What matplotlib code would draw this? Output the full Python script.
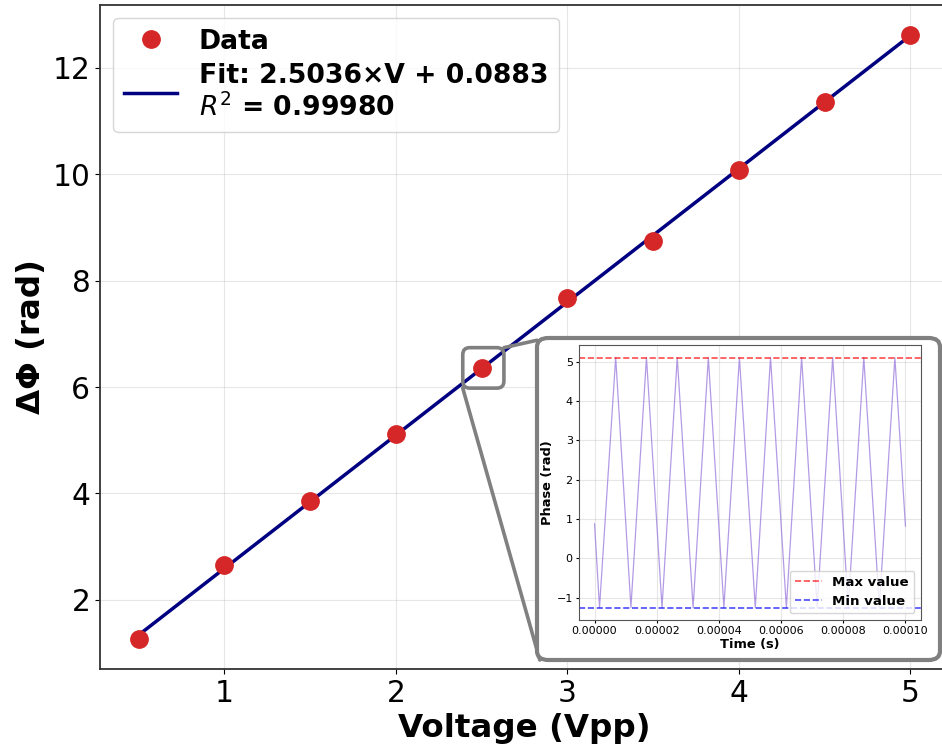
import numpy as np
import matplotlib
matplotlib.use("Agg")
import matplotlib.pyplot as plt
from matplotlib.patches import FancyBboxPatch, ConnectionPatch
from matplotlib.transforms import IdentityTransform

# Measured phase shift per drive voltage
voltage = [0.5, 1.0, 1.5, 2.0, 2.5, 3.0, 3.5, 4.0, 4.5, 5.0]
delta_phi = [1.27, 2.65, 3.85, 5.11, 6.36, 7.67, 8.74, 10.07, 11.36, 12.62]

# Linear fit result
fit_slope = 2.5036
fit_intercept = 0.0883
fit_r2 = 0.99980

# Phase trace at 2.5 Vpp (turning points of the triangular modulation)
trace_t = [0.0, 1.6e-6, 6.8e-6, 1.17e-5, 1.67e-5, 2.17e-5, 2.66e-5, 3.17e-5,
           3.66e-5, 4.16e-5, 4.66e-5, 5.17e-5, 5.66e-5, 6.17e-5, 6.66e-5,
           7.16e-5, 7.66e-5, 8.16e-5, 8.66e-5, 9.16e-5, 9.66e-5, 1.0e-4]
trace_phase = [0.88, -1.25, 5.11, -1.25, 5.11, -1.25, 5.11, -1.25, 5.11,
               -1.25, 5.11, -1.25, 5.11, -1.25, 5.11, -1.25, 5.11, -1.25,
               5.11, -1.25, 5.11, 0.82]
time_ticks = [0, 2e-5, 4e-5, 6e-5, 8e-5, 1e-4]

zoom_point = 4  # index of the 2.5 Vpp point

W, H = 942, 749
fig = plt.figure(figsize=(W / 100, H / 100), dpi=100)
ax = fig.add_axes([100 / W, 80 / H, 849 / W, 664.5 / H])

v = np.array(voltage)
ax.plot(v, fit_slope * v + fit_intercept, color="navy", lw=2.5,
        label=f"Fit: {fit_slope:.4f}×V + {fit_intercept:.4f}\n$R^2$ = {fit_r2:.5f}",
        zorder=2)
ax.plot(voltage, delta_phi, "o", color="#d62728", ms=12.5, label="Data", zorder=3)

ax.set_xlabel("Voltage (Vpp)", fontsize=23.4, fontweight="bold")
ax.set_ylabel("ΔΦ (rad)", fontsize=23.4, fontweight="bold")
ax.tick_params(labelsize=21.3)
ax.grid(True, alpha=0.3)
for s in ax.spines.values():
    s.set_linewidth(1.3)
    s.set_color("#333333")

handles, labels = ax.get_legend_handles_labels()
ax.legend(handles[::-1], labels[::-1], loc="upper left",
          prop={"size": 19.2, "weight": "bold"}, framealpha=0.8,
          borderpad=0.4, labelspacing=0.3)

# highlight box around the zoomed point
fig.canvas.draw()
xc, yc = voltage[zoom_point], delta_phi[zoom_point]
dx, dy = 0.12, 0.38
(x0, y0) = ax.transData.transform((xc - dx + 0.01, yc - dy))
(x1, y1) = ax.transData.transform((xc + dx + 0.01, yc + dy))
box = FancyBboxPatch((x0, y0), x1 - x0, y1 - y0,
                     boxstyle="round,pad=0,rounding_size=7",
                     transform=IdentityTransform(), fill=False,
                     ec="gray", lw=2.6, zorder=5)
fig.patches.append(box)

# frame behind the inset
fx0, fx1 = 537 / W, 940 / W
fy0, fy1 = (H - 660) / H, (H - 338) / H
frame = FancyBboxPatch((fx0, fy0), fx1 - fx0, fy1 - fy0,
                       boxstyle="round,pad=0,rounding_size=0.012",
                       transform=fig.transFigure, fc="white", ec="gray",
                       lw=3.0, zorder=6)
fig.patches.append(frame)

for (xa, ya), (xb, yb) in [((xc + dx + 0.01, yc + dy), (fx0, fy1 - 0.003)),
                           ((xc - dx + 0.01, yc - dy), (fx0 + 0.003, fy0))]:
    con = ConnectionPatch(xyA=(xa, ya), coordsA=ax.transData,
                          xyB=(xb, yb), coordsB=fig.transFigure,
                          color="gray", lw=2.6, zorder=5)
    fig.add_artist(con)

# inset with the raw phase trace
axin = fig.add_axes([579 / W, (H - 620) / H, 342 / W, 275 / H])
axin.set_zorder(10)
axin.plot(trace_t, trace_phase, color="mediumpurple", lw=0.9, alpha=0.7)
axin.axhline(max(trace_phase), color="red", ls="--", lw=1.2, alpha=0.7,
             label="Max value")
axin.axhline(min(trace_phase), color="blue", ls="--", lw=1.2, alpha=0.7,
             label="Min value")
axin.set_xlabel("Time (s)", fontsize=9.4, fontweight="bold", labelpad=1)
axin.set_ylabel("Phase (rad)", fontsize=9.4, fontweight="bold", labelpad=2)
axin.tick_params(labelsize=8, length=2.5, pad=2)
axin.set_xticks(time_ticks)
axin.set_xticklabels([f"{t:.5f}" for t in time_ticks])
axin.grid(True, alpha=0.3)
axin.legend(loc="lower right", prop={"size": 9.6, "weight": "bold"},
            framealpha=0.8, borderpad=0.4, labelspacing=0.45)
for s in axin.spines.values():
    s.set_color("#555555")
    s.set_linewidth(0.8)

fig.savefig("out.png", dpi=100)
